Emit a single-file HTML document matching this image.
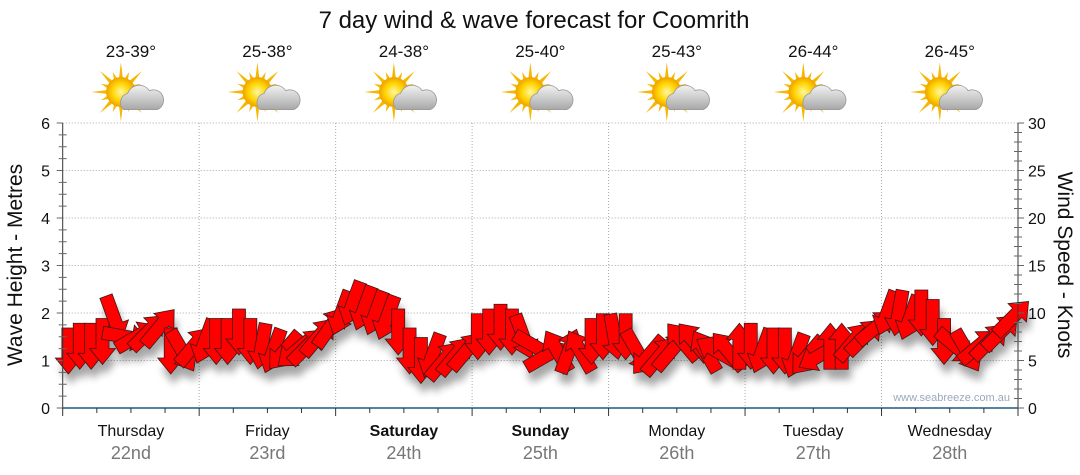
<!DOCTYPE html>
<html><head><meta charset="utf-8"><style>
body{margin:0;background:#fff;width:1080px;height:475px;overflow:hidden;font-family:"Liberation Sans","DejaVu Sans",sans-serif}
svg{display:block}
</style></head><body>
<svg id="chart" width="1080" height="475" xmlns="http://www.w3.org/2000/svg">
<defs>
<filter id="sh" x="-50%" y="-50%" width="200%" height="200%"><feGaussianBlur stdDeviation="4"/></filter>
<radialGradient id="sun" cx="50%" cy="50%" r="50%"><stop offset="0" stop-color="#fff7a0"/><stop offset="0.6" stop-color="#ffd400"/><stop offset="1" stop-color="#f0a000"/></radialGradient>
<linearGradient id="cloud" x1="0" y1="0" x2="0" y2="1"><stop offset="0" stop-color="#f2f2f2"/><stop offset="1" stop-color="#a8a8a8"/></linearGradient>
</defs>
<text x="534" y="28" text-anchor="middle" font-size="24" fill="#111">7 day wind &amp; wave forecast for Coomrith</text>
<g id="grid"></g>
<g id="shadows" filter="url(#sh)" opacity="0.35"></g>
<g id="arrows"></g>
<g id="axes"></g>
<g id="topg"></g>
<text transform="translate(22,265) rotate(-90)" text-anchor="middle" font-size="21" fill="#111">Wave Height - Metres</text>
<text transform="translate(1058,265) rotate(90)" text-anchor="middle" font-size="21" fill="#111">Wind Speed - Knots</text>
<text x="1010" y="401" text-anchor="end" font-size="11" fill="#9aaabb">www.seabreeze.com.au</text>
</svg>
<script>
const days=["Thursday","Friday","Saturday","Sunday","Monday","Tuesday","Wednesday"];
const dates=["22nd","23rd","24th","25th","26th","27th","28th"];
const temps=["23-39°","25-38°","24-38°","25-40°","25-43°","26-44°","26-45°"];
const boldDays=[false,false,true,true,false,false,false];
const waveTicks=[0,1,2,3,4,5,6];
const windTicks=[0,5,10,15,20,25,30];
const windSpeed=[6,6.5,6.5,7,9.5,7.5,7.5,8,8.5,6,6,6.5,
7,7,7,8,7,6.5,6,6,6,6.5,7.5,8.5,
10,11,10.5,10,9.5,8,6,5,5.5,5,5.5,6,
7.5,8,8.5,8,7.5,6.5,5.5,6,6,6,7,7.5,
7.5,7.5,6,5.5,5.5,6,7,7,6,6,6,6.5,
6.5,6,6,6,5.5,5.5,5.5,6.5,6.5,7,7.5,8.5,
10,10,9.5,10,9,7,6.5,6,6.5,7,8,9.5];
const windDir=[180,180,180,180,160,100,60,45,40,180,150,40,
200,180,180,180,180,190,200,220,230,45,40,35,
200,200,200,200,200,180,180,180,200,40,40,40,
180,180,180,180,160,120,60,330,20,330,180,180,
170,180,150,220,40,40,320,320,330,300,320,0,
180,200,180,180,200,220,240,0,0,40,45,50,
200,190,200,180,180,180,130,150,50,45,45,45];
const X0=62.7,X1=1018,Y0=408,YT=123;
const NS="http://www.w3.org/2000/svg";
const dayW=(X1-X0)/7;
const xHour=h=>X0+h/168*(X1-X0);
const yWave=m=>Y0-m*(Y0-YT)/6;
const yWind=k=>Y0-k*(Y0-YT)/30;
function mk(tag,attrs,parent){const e=document.createElementNS(NS,tag);for(const k in attrs)e.setAttribute(k,attrs[k]);parent.appendChild(e);return e;}
const grid=document.getElementById('grid'),axes=document.getElementById('axes'),topG=document.getElementById('topg');
waveTicks.forEach(t=>{if(t===0)return;const g=mk('line',{x1:X0,x2:X1,y1:yWave(t),y2:yWave(t),stroke:'#aaa','stroke-dasharray':'1,2'},grid);

});
for(let d=1;d<7;d++){const g=mk('line',{x1:X0+d*dayW,x2:X0+d*dayW,y1:YT,y2:Y0,stroke:'#aaa','stroke-dasharray':'1,2'},grid);

}
mk('line',{x1:X0,x2:X0,y1:YT,y2:Y0,stroke:'#333'},axes);
mk('line',{x1:X1,x2:X1,y1:YT,y2:Y0,stroke:'#333'},axes);
mk('line',{x1:X0,x2:X1,y1:Y0,y2:Y0,stroke:'#1f5a80','stroke-width':1.5},axes);
for(let m=0;m<=24;m++){const y=Y0-m*(Y0-YT)/24;mk('line',{x1:m%4?X0-4:X0-6,x2:m%4?X0+4:X0,y1:y,y2:y,stroke:'#666'},axes);}
for(let k=0;k<=30;k++){const y=yWind(k);mk('line',{x1:k%5?X1-4:X1,x2:k%5?X1+4:X1+6,y1:y,y2:y,stroke:'#666'},axes);}
for(let h=0;h<=168;h+=6){const x=xHour(h);mk('line',{x1:x,x2:x,y1:Y0,y2:Y0+(h%24?5:8),stroke:'#333'},axes);}
waveTicks.forEach(t=>{const e=mk('text',{x:50,y:yWave(t)+6,'text-anchor':'end','font-size':16,fill:'#111'},axes);e.textContent=t;

});
windTicks.forEach(t=>{const e=mk('text',{x:1028,y:yWind(t)+6,'font-size':16,fill:'#111'},axes);e.textContent=t;

});
days.forEach((d,i)=>{const cx=X0+(i+0.5)*dayW;
const a=mk('text',{x:cx,y:436,'text-anchor':'middle','font-size':16,fill:'#111','font-weight':boldDays[i]?'bold':'normal'},axes);a.textContent=d;


const b=mk('text',{x:cx,y:459,'text-anchor':'middle','font-size':18,fill:'#777'},axes);b.textContent=dates[i];


const t=mk('text',{x:cx,y:57,'text-anchor':'middle','font-size':17,fill:'#111'},topG);t.textContent=temps[i];


const g=mk('g',{transform:`translate(${cx-10},92) scale(1.35)`},topG);


for(let r=0;r<16;r++){const ang=r*22.5*Math.PI/180;const L=r%2?16:22;
mk('polygon',{points:`${Math.cos(ang)*L},${Math.sin(ang)*L} ${Math.cos(ang+0.18)*9},${Math.sin(ang+0.18)*9} ${Math.cos(ang-0.18)*9},${Math.sin(ang-0.18)*9}`,fill:'#f5b800'},g);}
mk('circle',{cx:0,cy:0,r:11,fill:'url(#sun)'},g);
mk('path',{d:'M2,13 a7,7 0 0 1 3,-12 a9,9 0 0 1 16,-2 a7,7 0 0 1 6,14 z',fill:'url(#cloud)',stroke:'#999','stroke-width':0.6},g);
});
const arrowPts="-6.5,23 6.5,23 6.5,-7 13,-7 0,-23 -13,-7 -6.5,-7";
const sh=document.getElementById('shadows'),ar=document.getElementById('arrows');
windSpeed.forEach((s,i)=>{const x=xHour(i*2+1),y=yWind(s);
mk('polygon',{points:arrowPts,fill:'#000',transform:`translate(${x+3},${y+10}) rotate(${windDir[i]})`},sh);
const p=mk('polygon',{points:arrowPts,fill:'#ff0000',stroke:'#3a1a1a','stroke-width':0.8,'stroke-linejoin':'miter',transform:`translate(${x},${y}) rotate(${windDir[i]})`},ar);

});
</script>
</body></html>
